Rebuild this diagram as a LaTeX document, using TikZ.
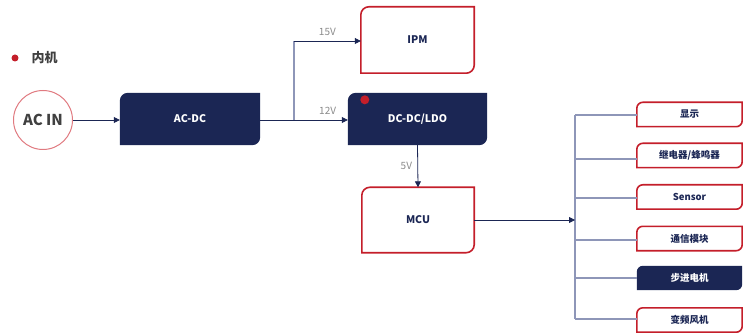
\documentclass[tikz,border=0pt]{standalone}
\usepackage{fontspec}
\setmainfont{Noto Sans CJK SC}
\usetikzlibrary{arrows.meta, positioning, backgrounds}

\definecolor{navy}{HTML}{1B2654}
\definecolor{brick}{HTML}{C41E2A}
\definecolor{pinkline}{HTML}{E07A80}
\definecolor{busgrey}{HTML}{8E96B8}
\definecolor{labelgrey}{HTML}{8A8A8A}

% leaf outline: top-left and bottom-right corners rounded
\newcommand{\leafshape}[2]{(#1.south west) -- ([yshift=-#2]#1.north west) arc[start angle=180, end angle=90, radius=#2] -- (#1.north east) -- ([yshift=#2]#1.south east) arc[start angle=0, end angle=-90, radius=#2] -- cycle}

\begin{document}
\begin{tikzpicture}[
    x=1pt, y=1pt,
    bigbox/.style={rectangle, inner sep=0pt, font=\bfseries\fontsize{10.5}{12}\selectfont},
    smallbox/.style={rectangle, inner sep=0pt, minimum width=105pt, minimum height=24pt, font=\bfseries\fontsize{9.5}{11}\selectfont},
    outlined/.style={draw=brick, line width=1.6pt, fill=white},
    solid/.style={fill=navy},
    wire/.style={navy, line width=0.8pt},
    arrow/.style={wire, -{Triangle[length=6pt, width=6pt]}},
    busline/.style={busgrey, line width=1.1pt},
    volt/.style={text=labelgrey, font=\fontsize{10}{12}\selectfont}
]
\useasboundingbox (0,0) rectangle (743,332);

% Legend
\fill[brick] (15,274) circle (3.5pt);
\node[anchor=west, text=black!75, font=\bfseries\fontsize{13}{15}\selectfont] (legend) at (28,274) {内机};

% Main chain
\node[circle, draw=pinkline, line width=1pt, minimum size=59pt, inner sep=0pt,
      text=black!75, font=\bfseries\fontsize{15}{17}\selectfont] (acin) at (43,212) {AC IN};
\node[bigbox, minimum width=140pt, minimum height=52pt, text=white] (acdc) at (190,213) {AC-DC};
\node[bigbox, minimum width=139pt, minimum height=52pt, text=white] (dcdc) at (417.5,213) {DC-DC/LDO};
\node[bigbox, minimum width=113pt, minimum height=66pt, text=navy] (ipm) at (417.5,292) {IPM};
\node[bigbox, minimum width=112pt, minimum height=65pt, text=navy] (mcu) at (418,112) {MCU};

% Loads
\node[smallbox, text=navy] (disp) at (689.5,217.5) {显示};
\node[smallbox, text=navy] (relay) at (689.5,176.5) {继电器/蜂鸣器};
\node[smallbox, text=navy] (sensor) at (689.5,135) {Sensor};
\node[smallbox, text=navy] (comm) at (689.5,93.5) {通信模块};
\node[smallbox, text=white] (stepper) at (689.5,54) {步进电机};
\node[smallbox, text=navy] (fan) at (689.5,12) {变频风机};

\begin{scope}[on background layer]
\path[solid] \leafshape{acdc}{8pt};
\path[solid] \leafshape{dcdc}{8pt};
\path[outlined] \leafshape{ipm}{8pt};
\path[outlined] \leafshape{mcu}{8pt};
\path[outlined] \leafshape{disp}{6pt};
\path[outlined] \leafshape{relay}{6pt};
\path[outlined] \leafshape{sensor}{6pt};
\path[outlined] \leafshape{comm}{6pt};
\path[solid] \leafshape{stepper}{6pt};
\path[outlined] \leafshape{fan}{6pt};
\end{scope}
\fill[brick] ([xshift=17pt, yshift=-7pt]dcdc.north west) circle (4.5pt);

% Connections
\coordinate (split) at (294,212);
\coordinate (up15) at (294,291);
\coordinate (bustop) at (575,217);
\coordinate (busbot) at (575,13);

\draw[arrow] (acin) -- (acin -| acdc.west);
\draw[arrow] (acdc.east |- split) -- (split -| dcdc.west) node[volt, pos=0.77, above=2pt] {12V};
\draw[busline] (split) -- (up15);
\draw[arrow] (up15) -- (up15 -| ipm.west) node[volt, midway, above=2pt] {15V};
\draw[arrow] (dcdc.south) -- (mcu.north) node[volt, midway, left=2pt] {5V};

\draw[busline] (bustop) -- (busbot);
\draw[busline] (bustop) -- (bustop -| disp.west);
\draw[busline] (575,173) -- (relay.west |- 0,173);
\draw[busline] (575,134) -- (sensor.west |- 0,134);
\draw[busline] (575,92) -- (comm.west |- 0,92);
\draw[busline] (575,54) -- (stepper.west);
\draw[busline] (busbot) -- (busbot -| fan.west);
\draw[arrow] (mcu.east) -- (mcu.east -| bustop);

\end{tikzpicture}
\end{document}
